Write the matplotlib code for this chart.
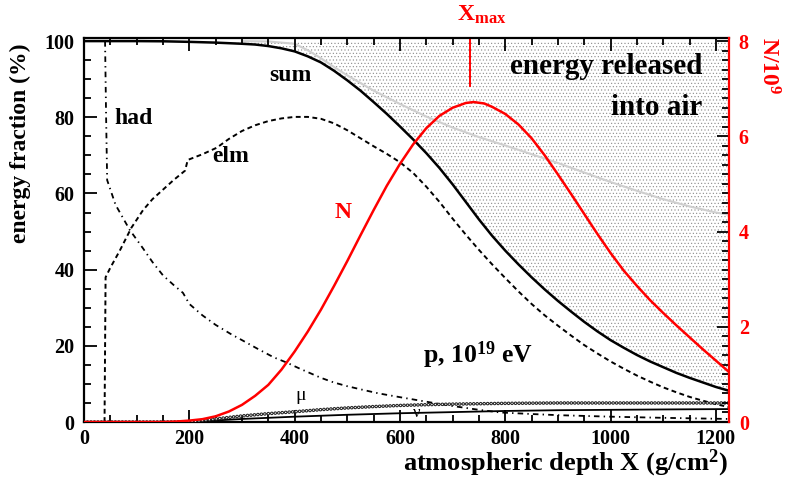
import matplotlib
matplotlib.use('Agg')
import numpy as np
import matplotlib.pyplot as plt
from matplotlib.ticker import MultipleLocator

plt.rcParams['font.family'] = ['Liberation Serif', 'DejaVu Serif']
plt.rcParams['font.weight'] = 'bold'
plt.rcParams['mathtext.fontset'] = 'custom'
plt.rcParams['mathtext.rm'] = 'Liberation Serif:bold'
plt.rcParams['mathtext.it'] = 'Liberation Serif:bold'
plt.rcParams['mathtext.bf'] = 'Liberation Serif:bold'
plt.rcParams['lines.scale_dashes'] = False
plt.rcParams['hatch.linewidth'] = 0.4

# dados (profundidade em g/cm2, fracao em %)
x_sum = [0, 100, 150, 200, 250, 300, 325, 350, 375, 400, 425, 450, 475, 500, 525, 550, 575,
         600, 625, 650, 675, 700, 725, 750, 775, 800, 825, 850, 875, 900, 925, 950, 975,
         1000, 1025, 1050, 1075, 1100, 1125, 1150, 1175, 1200, 1225]
f_sum = [100, 100, 99.95, 99.8, 99.6, 99.3, 99.1, 98.7, 98.1, 97.3, 96.0, 94.4, 92.2, 89.7,
         87.0, 84.0, 80.9, 77.6, 74.2, 70.6, 66.7, 62.4, 57.8, 53.2, 48.9, 45.0, 41.4, 38.0,
         34.8, 31.8, 29.0, 26.3, 23.8, 21.5, 19.5, 17.6, 15.9, 14.4, 12.9, 11.6, 10.4, 9.2, 8.2]

x_elm = [39, 41, 50, 68, 90, 112, 130, 150, 170, 192, 197, 225, 252, 275, 300, 325, 350, 375,
         400, 425, 450, 475, 500, 525, 550, 575, 600, 625, 650, 675, 700, 725, 750, 775,
         800, 825, 850, 875, 900, 925, 950, 975, 1000, 1025, 1050, 1075, 1100, 1125, 1150,
         1175, 1200, 1225]
f_elm = [0, 38, 40.5, 45, 51, 55.6, 58.5, 61, 63.5, 66, 68.8, 70.3, 72, 74.3, 76.4, 77.9,
         79.0, 79.7, 80.1, 80.1, 79.6, 78.4, 76.6, 74.5, 72.4, 70.4, 68.2, 65.4, 61.8, 57.8,
         53.4, 49.2, 45.2, 41.4, 37.8, 34.3, 31.0, 28.0, 25.3, 22.7, 20.2, 18.0, 15.9, 14.0,
         12.2, 10.6, 9.1, 7.8, 6.6, 5.6, 4.7, 3.9]

x_had = [40, 42, 44, 60, 87, 112, 130, 150, 170, 188, 200, 225, 250, 280, 300, 330, 360, 385,
         410, 430, 450, 474, 500, 531, 560, 601, 660, 700, 750, 791, 850, 900, 1000, 1100, 1225]
f_had = [100, 80, 63.5, 57, 50.4, 45.6, 42, 38.5, 36, 33.9, 31, 28, 25.5, 23, 21.5, 19.2, 17,
         15.6, 14, 12.8, 11.6, 10.4, 9.4, 8.4, 7.5, 6.5, 5.1, 4.2, 3.2, 2.5, 2.1, 1.8, 1.4, 1.1, 0.8]

x_mu = [0, 200, 225, 250, 275, 300, 350, 400, 450, 500, 550, 600, 650, 700, 800, 900, 1225]
f_mu = [0, 0, 0.4, 0.8, 1.2, 1.6, 2.2, 2.7, 3.25, 3.7, 4.05, 4.35, 4.55, 4.7, 4.9, 5.0, 5.0]

x_nu = [0, 200, 300, 400, 500, 600, 700, 800, 900, 1000, 1100, 1225]
f_nu = [0, 0, 0.8, 1.4, 1.9, 2.3, 2.6, 2.9, 3.1, 3.2, 3.3, 3.4]

x_gray = [300, 350, 400, 425, 450, 475, 500, 550, 600, 650, 700, 750, 800, 850, 900, 950,
          1000, 1050, 1100, 1150, 1200, 1225]
f_gray = [100, 99.9, 99.3, 97.6, 95.5, 93.2, 91, 87, 83.5, 80.2, 77.3, 74.8, 72.6, 70.3, 68,
          65.5, 63, 60.7, 58.5, 56.6, 55, 54.4]

# numero de particulas N / 10^9 (eixo da direita)
x_N = [0, 100, 150, 175, 200, 225, 250, 275, 300, 325, 350, 375, 400, 425, 450, 475, 500,
       525, 550, 575, 600, 625, 650, 675, 700, 725, 740, 760, 775, 800, 825, 850, 875, 900,
       925, 950, 975, 1000, 1025, 1050, 1075, 1100, 1125, 1150, 1175, 1200, 1225]
N_e9 = [0, 0, 0, 0.01, 0.03, 0.06, 0.12, 0.22, 0.36, 0.55, 0.78, 1.1, 1.48, 1.9, 2.36, 2.86,
        3.38, 3.92, 4.45, 4.96, 5.42, 5.83, 6.17, 6.43, 6.6, 6.70, 6.72, 6.69, 6.62, 6.47,
        6.25, 5.96, 5.6, 5.2, 4.79, 4.37, 3.95, 3.55, 3.18, 2.86, 2.56, 2.29, 2.03, 1.78,
        1.53, 1.29, 1.05]

xmax_pos = 733

fig = plt.figure(figsize=(7.85, 4.91), dpi=100)
ax = fig.add_axes([0.107, 0.1405, 0.8217, 0.782])
ax2 = ax.twinx()

# regiao pontilhada: energia depositada no ar
ax.fill_between(x_sum, f_sum, 100, facecolor='white', edgecolor='#8a8a8a',
                hatch='.....', linewidth=0, zorder=0)
ax.plot(x_gray, f_gray, color='#cfcfcf', lw=1.5, zorder=1)

ax.plot(x_sum, f_sum, color='black', lw=1.8, zorder=3)
ax.plot(x_elm, f_elm, color='black', lw=1.4, ls=(0, (3.5, 2.5)), zorder=3)
ax.plot(x_had, f_had, color='black', lw=1.3, ls=(0, (4, 3, 1, 3)), zorder=3)
ax.plot(x_nu, f_nu, color='black', lw=1.3, zorder=3)
# muons: cadeia de circulos
ax.plot(x_mu, f_mu, color='#222222', lw=2.6, ls=(0, (0.01, 2.5)),
        dash_capstyle='round', zorder=3)
ax.plot(x_mu, f_mu, color='white', lw=1.1, ls=(0, (0.01, 2.5)),
        dash_capstyle='round', zorder=3)

ax2.plot(x_N, N_e9, color='red', lw=1.8)

ax.plot([xmax_pos, xmax_pos], [100.8, 88.2], color='red', lw=1.4, clip_on=False)

ax.set_xlim(0, 1225)
ax.set_ylim(0, 100.8)
ax2.set_ylim(0, 100.8 / 12.5)

ax.xaxis.set_major_locator(MultipleLocator(200))
ax.xaxis.set_minor_locator(MultipleLocator(50))
ax.yaxis.set_major_locator(MultipleLocator(20))
ax.yaxis.set_minor_locator(MultipleLocator(5))
ax2.yaxis.set_major_locator(MultipleLocator(2))
ax2.yaxis.set_minor_locator(MultipleLocator(0.2))

ax.tick_params(which='both', direction='in', top=True, right=False, labelsize=14.5, width=1.3)
ax.tick_params(which='major', length=9)
ax.tick_params(which='minor', length=5)
ax.tick_params(axis='y', pad=7)
ax.tick_params(axis='x', pad=5)
ax2.tick_params(which='both', direction='in', labelsize=14.5, width=1.3, labelcolor='red',
                color='black', pad=7)
ax2.tick_params(which='major', length=9)
ax2.tick_params(which='minor', length=5)

for s in ['left', 'bottom', 'top']:
    ax.spines[s].set_linewidth(1.6)
ax.spines['right'].set_visible(False)
ax2.spines['right'].set_color('red')
ax2.spines['right'].set_linewidth(1.6)
for s in ['left', 'bottom', 'top']:
    ax2.spines[s].set_visible(False)

# textos
ax.text(392, 91, 'sum', fontsize=17, ha='center', va='center')
ax.text(95, 79.8, 'had', fontsize=17, ha='center', va='center')
ax.text(278, 69.6, 'elm', fontsize=17, ha='center', va='center')
ax.text(492, 54.9, 'N', fontsize=17, ha='center', va='center', color='red')
ax.text(1175, 91.3, 'energy released', fontsize=21, ha='right', va='baseline')
ax.text(1175, 80.6, 'into air', fontsize=21, ha='right', va='baseline')
ax.text(643, 15.5, r'p, 10$^{19}$ eV', fontsize=18.5, ha='left', va='baseline')
ax.text(412, 7, 'μ', fontsize=14, fontweight='normal', ha='center', va='center')
ax.text(632, 2.4, 'ν', fontsize=12, fontweight='normal', ha='center', va='center')
ax.text(756, 104, r'X$_{\mathregular{max}}$', fontsize=17, color='red',
        ha='center', va='bottom')

fig.text(20 / 785, 1 - 143 / 491, 'energy fraction (%)', rotation=90, fontsize=17,
         ha='center', va='center')
fig.text(728 / 785, 1 - 463 / 491, r'atmospheric depth X (g/cm$^2$)', fontsize=19,
         ha='right', va='center')
fig.text(768 / 785, 1 - 66 / 491, r'N/10$^9$', rotation=270, fontsize=17, color='red',
         ha='center', va='center')

fig.savefig('out.png', dpi=100)
